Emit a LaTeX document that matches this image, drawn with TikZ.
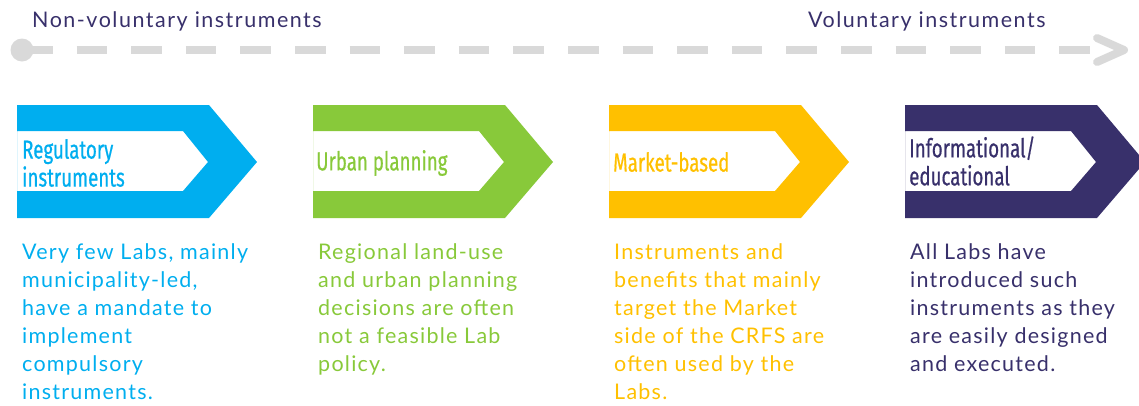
\documentclass[tikz,border=0pt]{standalone}
\usepackage{fontspec}
\usetikzlibrary{positioning,calc}
\newfontfamily\bodyfont[LetterSpace=5.8]{Lato}
\newfontfamily\labelfont[LetterSpace=7]{Lato}
\newfontfamily\titlefont[FakeStretch=0.72, FakeBold=0.6]{Fira Sans}
\definecolor{regblue}{HTML}{00AEEF}
\definecolor{urbgreen}{HTML}{88C93A}
\definecolor{mktyellow}{HTML}{FFC000}
\definecolor{infpurple}{HTML}{38306B}
\definecolor{trackgray}{HTML}{D9D9D9}
\tikzset{
  headtext/.style={font=\titlefont\fontsize{26}{28}\selectfont, anchor=west, align=left, inner sep=0pt, text=#1},
  bodytext/.style={font=\bodyfont\fontsize{21.5}{28}\selectfont, anchor=north west, align=left, inner sep=0pt, text=#1},
  toplabel/.style={font=\labelfont\fontsize{21.5}{24}\selectfont, anchor=base west, inner sep=0pt, text=infpurple},
  track/.style={draw=trackgray, line width=8pt, dash pattern=on 30.6pt off 24pt},
  barb/.style={draw=trackgray, line width=8pt, line cap=round, line join=round},
}
\begin{document}
\begin{tikzpicture}[x=1pt,y=-1pt]
    \useasboundingbox (0,0) rectangle (1139,405);
    \node[toplabel] (nonvol) at (32,27) {Non-voluntary instruments};
    \node[toplabel] (vol) at (808,27) {Voluntary instruments};
    % scale from non-voluntary to voluntary
    \node[circle, fill=trackgray, minimum size=23pt, inner sep=0pt] (start) at (22,50) {};
    \coordinate (trackend) at (1090,50);
    \coordinate (tip) at (1124,50);
    \draw[track] (start.center) -- (trackend);
    \draw[barb] ($(tip)+(-27,-12)$) -- (tip) -- ($(tip)+(-27,12)$);
    % chevrons
    \foreach \x/\c in {17/regblue, 313/urbgreen, 609/mktyellow, 905/infpurple} {
        \fill[\c, even odd rule] (\x,105) -- ++(192,0) -- ++(48,57) -- ++(-48,56) -- ++(-192,0) -- cycle
            (\x,131) -- ++(166,0) -- ++(25,31) -- ++(-25,29) -- ++(-166,0) -- cycle;
    }
    \node[headtext=regblue] (reg) at (22,163) {Regulatory\\instruments};
    \node[headtext=urbgreen] (urb) at (316,163) {Urban planning};
    \node[headtext=mktyellow] (mkt) at (613,162) {Market-based};
    \node[headtext=infpurple] (inf) at (909,161) {Informational/\\educational};
    % descriptions
    \node[bodytext=regblue] (regtext) at (22,243.5) {Very few Labs, mainly\\municipality-led,\\have a mandate to\\implement\\compulsory\\instruments.};
    \node[bodytext=urbgreen] (urbtext) at (318,243.5) {Regional land-use\\and urban planning\\decisions are often\\not a feasible Lab\\policy.};
    \node[bodytext=mktyellow] (mkttext) at (614,243.5) {Instruments and\\benefits that mainly\\target the Market\\side of the CRFS are\\often used by the\\Labs.};
    \node[bodytext=infpurple] (inftext) at (910,243.5) {All Labs have\\introduced such\\instruments as they\\are easily designed\\and executed.};
\end{tikzpicture}
\end{document}
